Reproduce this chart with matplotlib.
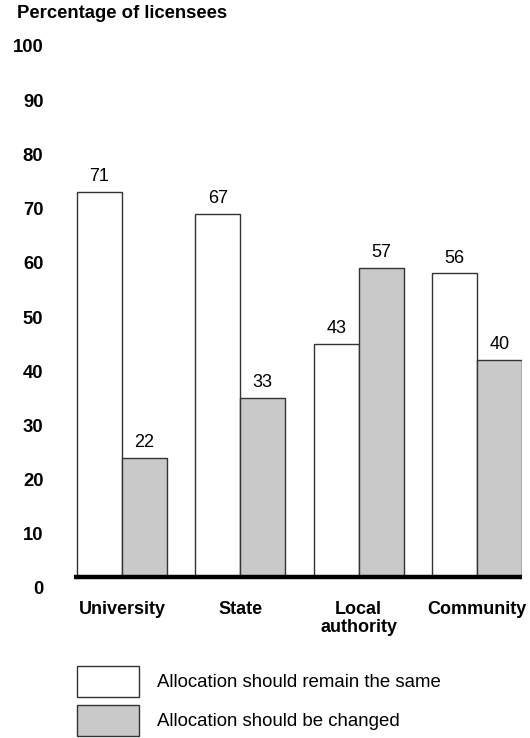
import matplotlib
matplotlib.use("Agg")
import matplotlib.pyplot as plt
import numpy as np
from matplotlib.transforms import ScaledTranslation

plt.rcParams["font.family"] = ["Liberation Sans", "DejaVu Sans"]

categories = ["University", "State", "Local\nauthority", "Community"]
remain_same = [71, 67, 43, 56]
be_changed = [22, 33, 57, 40]
series_labels = ["Allocation should remain the same", "Allocation should be changed"]
yticks = [0, 10, 20, 30, 40, 50, 60, 70, 80, 90, 100]

W, H = 530, 738
fig = plt.figure(figsize=(W / 100, H / 100), dpi=100)
ax = fig.add_axes([74 / W, 1 - 577 / H, 448 / W, 542 / H])

x = np.arange(len(categories))
w = 0.38
b1 = ax.bar(x - w / 2, remain_same, w, color="white", edgecolor="#333333", linewidth=1)
b2 = ax.bar(x + w / 2, be_changed, w, color="#c9c9c9", edgecolor="#333333", linewidth=1)

for bars, vals in ((b1, remain_same), (b2, be_changed)):
    for r, v in zip(bars, vals):
        ax.annotate(str(v), (r.get_x() + r.get_width() / 2, r.get_height()),
                    xytext=(0, 5), textcoords="offset points",
                    ha="center", va="bottom", fontsize=13)

ax.axhline(0, color="black", linewidth=3.2, clip_on=False, zorder=5,
           solid_capstyle="butt")

ax.set_xlim(-0.406, 3.381)
ax.set_ylim(0, 100)
ax.set_yticks(yticks)
ax.set_yticklabels([str(t) for t in yticks], fontsize=13.3, fontweight="bold")
ax.tick_params(axis="y", length=0, pad=22)
# the printed scale sits a little below the bar scale in the original
off = ScaledTranslation(0, -0.11, fig.dpi_scale_trans)
for lab in ax.get_yticklabels():
    lab.set_transform(lab.get_transform() + off)
ax.set_xticks(x)
ax.set_xticklabels(categories, fontsize=13, fontweight="bold", linespacing=1.1)
ax.tick_params(axis="x", length=0, pad=17)
for s in ax.spines.values():
    s.set_visible(False)

fig.text(17 / W, 1 - 14 / H, "Percentage of licensees", ha="left", va="center",
         fontsize=13.3, fontweight="bold")

fig.legend([b1, b2], series_labels, loc="upper left",
           bbox_to_anchor=(77 / W, 1 - 666 / H), frameon=False, fontsize=13.4,
           handlelength=3.33, handleheight=2.19, handletextpad=0.97,
           labelspacing=0.43, borderpad=0, borderaxespad=0)

fig.savefig("out.png", dpi=100)
